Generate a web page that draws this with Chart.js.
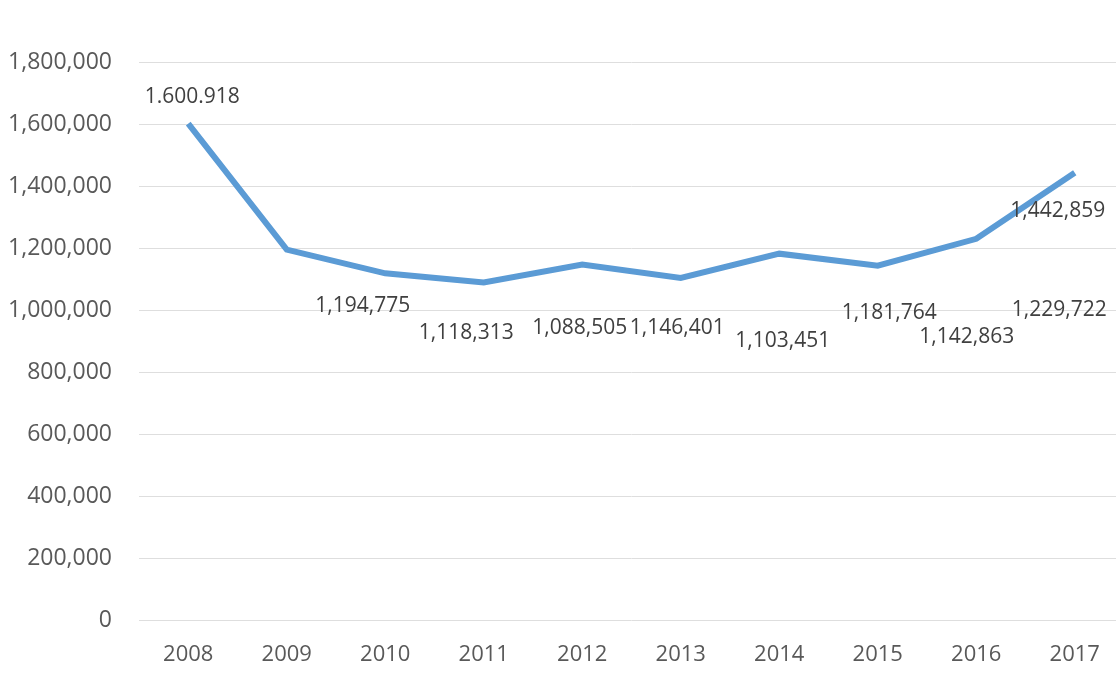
<!DOCTYPE html>
<html>
<head>
<meta charset="utf-8">
<script src="https://cdn.jsdelivr.net/npm/chart.js@4/dist/chart.umd.min.js"></script>
<style>
  html, body { margin: 0; padding: 0; background: #ffffff; overflow: hidden; }
  #wrap { width: 1124px; height: 675px; }
</style>
</head>
<body>
<div id="wrap"><canvas id="chart"></canvas></div>
<script>
const years = ["2008", "2009", "2010", "2011", "2012", "2013", "2014", "2015", "2016", "2017"];
const totals = [1600918, 1194775, 1118313, 1088505, 1146401, 1103451, 1181764, 1142863, 1229722, 1442859];
const pointLabels = ["1.600.918", "1,194,775", "1,118,313", "1,088,505", "1,146,401",
                     "1,103,451", "1,181,764", "1,142,863", "1,229,722", "1,442,859"];

// where each value label sits relative to its point (the source placed them loosely)
const labelShift = [
  [4, -27], [76, 56], [81, 60], [96, 45], [95, 63],
  [102, 63], [110, 59], [89, 71], [83, 71], [-17, 38]
];

const valueLabels = {
  id: "valueLabels",
  afterDatasetsDraw(chart) {
    const ctx = chart.ctx;
    const meta = chart.getDatasetMeta(0);
    ctx.save();
    ctx.font = "21px 'Open Sans'";
    ctx.fillStyle = "#404040";
    ctx.textAlign = "center";
    ctx.textBaseline = "middle";
    meta.data.forEach((pt, i) => {
      ctx.fillText(pointLabels[i], pt.x + labelShift[i][0], pt.y + labelShift[i][1]);
    });
    ctx.restore();
  }
};

new Chart(document.getElementById("chart").getContext("2d"), {
  type: "line",
  data: {
    labels: years,
    datasets: [{
      data: totals,
      borderColor: "#5b9bd5",
      borderWidth: 6,
      pointRadius: 0,
      tension: 0,
      fill: false
    }]
  },
  options: {
    responsive: true,
    maintainAspectRatio: false,
    animation: false,
    layout: { padding: { top: 62, right: 0, bottom: 0, left: 0 } },
    plugins: {
      legend: { display: false },
      tooltip: { enabled: false }
    },
    scales: {
      x: {
        offset: true,
        grid: { display: false, drawTicks: false },
        border: { display: false },
        ticks: { color: "#595959", font: { family: "'Open Sans'", size: 22 }, padding: 22 },
        afterFit: s => { s.height = 55; }
      },
      y: {
        min: 0,
        max: 1800000,
        grid: { color: "#dedede", lineWidth: 1, drawTicks: false },
        border: { display: false },
        ticks: {
          stepSize: 200000,
          color: "#595959",
          font: { family: "'Open Sans'", size: 23 },
          padding: 27,
          callback: v => v.toLocaleString("en-US")
        },
        afterFit: s => { s.width = 139; }
      }
    }
  },
  plugins: [valueLabels]
});
</script>
</body>
</html>
